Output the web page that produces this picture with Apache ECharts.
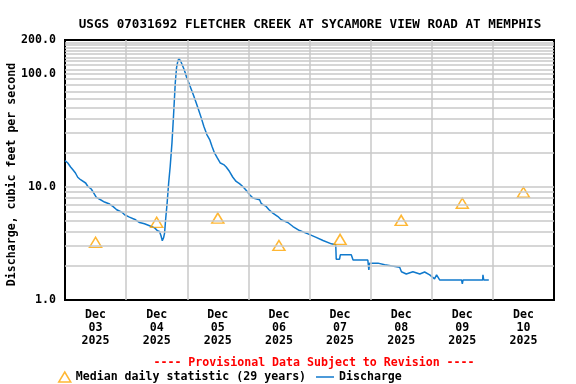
<!DOCTYPE html>
<html>
<head>
<meta charset="utf-8">
<script src="https://cdn.jsdelivr.net/npm/echarts@6/dist/echarts.min.js"></script>
<style>html,body{margin:0;padding:0;background:#fff}#c{width:576px;height:384px}</style>
</head>
<body>
<div id="c"></div>
<script>
// Hours after 2025-12-03 00:00
const dischargeHours = [0,1.1,2.2,3.1,4.1,5.0,6.1,8.1,9.0,10.3,10.9,12.3,13.3,15.5,17.5,18.8,20.3,22.5,23.4,25.3,27.7,29.3,31.2,33.2,35.2,36.3,37.1,37.7,38.2,38.7,39.1,39.5,40.1,40.7,41.3,42.0,42.6,43.3,43.8,44.3,44.7,45.4,45.9,46.5,47.2,47.8,48.6,49.6,50.6,51.5,52.4,53.5,54.5,55.7,56.8,57.7,58.7,59.8,61.0,62.3,63.3,64.6,65.9,67.2,68.5,69.8,71.2,72.5,73.8,76.4,77.1,79.0,80.1,81.6,83.6,84.9,87.5,89.5,92.1,95.4,98.4,101.3,104.6,106.3,106.5,107.8,108.1,112.4,113.1,118.9,119.3,119.6,122.9,125.5,126.2,131.4,132.1,134.0,136.6,139.3,141.2,143.2,145.1,145.9,147.1,155.7,156.0,156.3,164.0,164.1,164.4,166.4];
const dischargeValues = [17.1,16.3,15.05,14.2,13.3,12.2,11.6,10.85,10.1,9.6,9.14,8.09,7.87,7.36,7.07,6.73,6.29,5.95,5.68,5.42,5.13,4.85,4.73,4.54,4.35,4.1,4.04,3.70,3.34,3.55,3.91,5.13,7.21,10.85,15.2,24.6,42.3,83.7,113.7,130.2,136.7,130.2,130.2,113.7,102.7,92.7,83.7,73.0,63.7,55.6,48.5,40.9,34.5,29.1,26.3,22.9,20.0,18.1,16.3,15.8,15.05,13.7,12.2,11.2,10.7,10.1,9.33,8.55,7.99,7.71,7.11,6.73,6.29,5.88,5.48,5.13,4.85,4.47,4.12,3.85,3.60,3.36,3.14,3.08,2.30,2.30,2.51,2.51,2.26,2.26,1.85,2.12,2.12,2.05,1.97,1.95,1.78,1.70,1.78,1.70,1.77,1.67,1.54,1.67,1.505,1.505,1.39,1.505,1.505,1.67,1.505,1.505];
const medianHours = [12,36,60,84,108,132,156,180];
const medianValues = [3.24,4.87,5.31,3.04,3.44,5.07,7.18,8.99];
const dayLabels = ['03','04','05','06','07','08','09','10'];
const monthLabel = 'Dec';
const yearLabel = '2025';
const dayBoundaries = [24,48,72,96,120,144,168];
const yGridValues = [2,3,4,5,6,7,8,9,10,20,30,40,50,60,70,80,90,100,110,120,130,140,150,160,170,180,190];

const FONT = '"DejaVu Sans Mono", monospace';
const chart = echarts.init(document.getElementById('c'), null, {renderer:'canvas'});
const gridLine = {color:'#c8c8c8', width:1.5, type:'solid'};
chart.setOption({
  animation:false,
  backgroundColor:'#ffffff',
  title:[
    {text:'USGS 07031692 FLETCHER CREEK AT SYCAMORE VIEW ROAD AT MEMPHIS', left:305, top:13, textAlign:'center',
     textStyle:{fontFamily:FONT, fontWeight:'bold', fontSize:12.6, color:'#000'}},
    {text:'---- Provisional Data Subject to Revision ----', left:309, top:352, textAlign:'center',
     textStyle:{fontFamily:FONT, fontWeight:'bold', fontSize:11.6, color:'#ff0000'}}
  ],
  legend:[
    {data:[{name:'Median daily statistic (29 years)', icon:'triangle', itemStyle:{color:'rgba(0,0,0,0)', borderColor:'#ffa500', borderWidth:1.5}}],
     left:53, top:366, itemWidth:12, itemHeight:10, itemGap:0,
     textStyle:{fontFamily:FONT, fontWeight:'bold', fontSize:11.6, color:'#000'}},
    {data:[{name:'Discharge', icon:'rect'}],
     left:311, top:366, itemWidth:18, itemHeight:1.5, itemGap:0,
     textStyle:{fontFamily:FONT, fontWeight:'bold', fontSize:11.6, color:'#000'}}
  ],
  grid:{left:65, right:22, top:40, bottom:84, show:true, borderColor:'#000', borderWidth:2, backgroundColor:'transparent',
        containLabel:false, outerBoundsMode:'none'},
  xAxis:{type:'value', min:0, max:192, interval:12,
    axisLine:{show:false}, axisTick:{show:false}, splitLine:{show:false},
    axisLabel:{margin:9, lineHeight:12.7, fontFamily:FONT, fontWeight:'bold', fontSize:11.6, color:'#000',
      formatter:function(v){ if(v%24===12){ return monthLabel+'\n'+dayLabels[(v-12)/24]+'\n'+yearLabel;} return ''; }}},
  yAxis:{type:'log', logBase:10, min:1, max:200,
    name:'Discharge, cubic feet per second', nameLocation:'middle', nameGap:47, nameRotate:90, nameMoveOverlap:false,
    nameTextStyle:{fontFamily:FONT, fontWeight:'bold', fontSize:11.6, color:'#000', padding:[0,9,0,0]},
    axisLine:{show:false}, axisTick:{show:false}, splitLine:{show:false}, minorSplitLine:{show:false},
    axisLabel:{margin:9, fontFamily:FONT, fontWeight:'bold', fontSize:11.6, color:'#000', showMaxLabel:true, showMinLabel:true,
      formatter:function(v){ return Number(v).toFixed(1); }}},
  series:[
    {name:'grid', type:'line', data:[], silent:true, z:1,
     markLine:{silent:true, symbol:['none','none'], label:{show:false}, lineStyle:gridLine, animation:false,
       data: dayBoundaries.map(h=>({xAxis:h})).concat(yGridValues.map(v=>({yAxis:v})))}},
    {name:'Discharge', type:'line', z:3, showSymbol:false, symbol:'none',
     color:'#1079cc', lineStyle:{color:'#1079cc', width:1.5},
     data: dischargeHours.map((h,i)=>[h, dischargeValues[i]])},
    {name:'Median daily statistic (29 years)', type:'scatter', z:4, symbol:'triangle', symbolSize:[12,10],
     itemStyle:{color:'rgba(0,0,0,0)', borderColor:'#ffa500', borderWidth:1.5},
     data: medianHours.map((h,i)=>[h, medianValues[i]])}
  ]
});
</script>
</body>
</html>
